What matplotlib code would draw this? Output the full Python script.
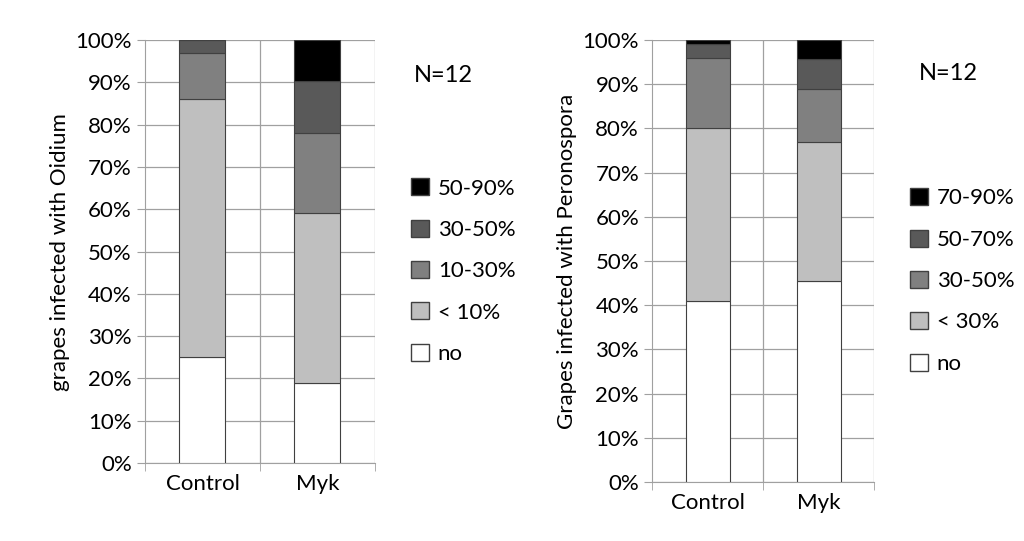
import matplotlib
matplotlib.use("Agg")
import matplotlib.pyplot as plt
import numpy as np
from matplotlib.ticker import PercentFormatter
from matplotlib.patches import Patch

plt.rcParams["font.family"] = "Lato"

categories = ["Control", "Myk"]

# Oidium (left chart), percent per class, bottom to top
oidium_labels = ["no", "< 10%", "10-30%", "30-50%", "50-90%"]
oidium_values = [
    [25, 19],
    [61, 40],
    [11, 19],
    [3, 12.3],
    [0, 9.7],
]

# Peronospora (right chart)
perono_labels = ["no", "< 30%", "30-50%", "50-70%", "70-90%"]
perono_values = [
    [41, 45.5],
    [39, 31.5],
    [16, 12],
    [3, 6.7],
    [1, 4.3],
]

colors = ["white", "#bfbfbf", "#808080", "#595959", "black"]


def draw_panel(ax, values, labels, ylabel, legend_anchor, n_pos):
    x = np.arange(len(categories))
    bottom = np.zeros(len(categories))
    for vals, color in zip(values, colors):
        vals = np.array(vals, dtype=float)
        ax.bar(x, vals, 0.4, bottom=bottom, color=color,
               edgecolor="#404040", linewidth=0.8, zorder=3)
        bottom += vals
    ax.set_xlim(-0.5, 1.5)
    ax.set_ylim(0, 100)
    ax.set_yticks(np.arange(0, 101, 10))
    ax.yaxis.set_major_formatter(PercentFormatter(decimals=0))
    ax.set_xticks(x)
    ax.set_xticklabels(categories, fontsize=16)
    ax.tick_params(axis="y", labelsize=16, length=6, color="#a0a0a0")
    ax.tick_params(axis="x", length=0, pad=8)
    ax.set_xticks([-0.5, 0.5, 1.5], minor=True)
    ax.tick_params(axis="x", which="minor", length=6, color="#a0a0a0")
    ax.grid(axis="y", color="#a0a0a0", linewidth=0.9, zorder=0)
    ax.axvline(0.5, color="#a0a0a0", linewidth=0.9, zorder=0)
    ax.axvline(1.5, color="#a0a0a0", linewidth=0.9, zorder=0)
    for side in ["top", "right"]:
        ax.spines[side].set_visible(False)
    ax.spines["left"].set_color("#a0a0a0")
    ax.spines["bottom"].set_color("#a0a0a0")
    ax.set_ylabel(ylabel, fontsize=16)
    handles = [Patch(facecolor=c, edgecolor="#404040", label=l)
               for c, l in zip(colors, labels)][::-1]
    ax.legend(handles=handles, loc="upper left", bbox_to_anchor=legend_anchor,
              frameon=False, fontsize=16, handlelength=0.8, handleheight=0.8,
              labelspacing=0.95, handletextpad=0.4)
    ax.text(n_pos[0], n_pos[1], "N=12", transform=ax.transAxes, fontsize=17)


fig = plt.figure(figsize=(10.24, 5.41), dpi=100)
ax1 = fig.add_axes([0.1416, 0.144, 0.2246, 0.782])
ax2 = fig.add_axes([0.637, 0.109, 0.217, 0.817])

draw_panel(ax1, oidium_values, oidium_labels, "grapes infected with Oidium",
           (1.07, 0.72), (1.17, 0.9))
draw_panel(ax2, perono_values, perono_labels, "Grapes infected with Peronospora",
           (1.07, 0.71), (1.2, 0.91))

fig.savefig("out.png", dpi=100)
